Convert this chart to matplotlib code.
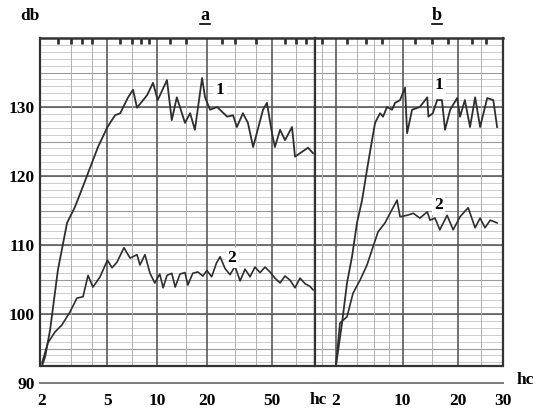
import numpy as np
import matplotlib
matplotlib.use("Agg")
import matplotlib.pyplot as plt
from matplotlib.lines import Line2D

# panel a: log frequency axis
A1_X = [2.0, 2.09, 2.24, 2.50, 2.84, 3.17, 3.55, 3.92, 4.38, 5.0, 5.56, 5.98, 6.67, 7.15, 7.56,
        8.7, 9.46, 10.1, 11.5, 12.3, 13.2, 14.8, 15.9, 17.0, 18.8, 19.6, 21.0, 23.2, 26.7, 29.0,
        30.6, 33.3, 35.7, 38.4, 44.1, 46.6, 50.0, 52.1, 56.0, 60.0, 66.2, 69.0, 76.1, 82.8, 88.8]
A1_DB = [92.5, 93.8, 97.7, 106.4, 113.2, 115.5, 118.5, 121.2, 124.2, 127.1, 128.8, 129.1, 131.4, 132.5, 129.9,
         131.7, 133.5, 131.0, 133.9, 128.1, 131.4, 127.7, 129.1, 126.7, 134.2, 131.4, 129.6, 130.0, 128.6, 128.8,
         127.1, 129.1, 127.7, 124.2, 129.6, 130.6, 126.2, 124.2, 126.7, 125.2, 127.1, 122.8, 123.5, 124.1, 123.3]

A2_X = [2.0, 2.17, 2.40, 2.64, 2.96, 3.26, 3.55, 3.81, 4.08, 4.51, 5.0, 5.33, 5.71, 6.30, 6.86,
        7.56, 7.88, 8.45, 9.07, 9.7, 10.4, 10.9, 11.5, 12.3, 12.9, 13.8, 14.8, 15.4, 16.5, 17.7,
        19.0, 20.1, 21.5, 23.0, 24.2, 25.9, 27.8, 29.8, 32.0, 34.3, 36.8, 39.4, 42.3, 45.4, 48.6,
        52.1, 56.0, 60.0, 64.4, 69.0, 74.0, 79.4, 85.1, 88.8]
A2_DB = [92.9, 95.8, 97.4, 98.4, 100.3, 102.3, 102.5, 105.6, 103.9, 105.4, 107.8, 106.7, 107.5, 109.6, 108.1,
         108.6, 107.1, 108.6, 105.9, 104.5, 105.8, 103.8, 105.6, 105.9, 103.9, 105.8, 106.0, 104.2, 105.9, 106.1,
         105.5, 106.3, 105.4, 107.4, 108.3, 106.6, 105.7, 106.9, 104.8, 106.5, 105.4, 106.8, 106.0, 106.8, 106.1,
         105.2, 104.5, 105.5, 104.9, 103.8, 105.2, 104.4, 104.0, 103.5]

# panel b
B1_X = [2.0, 2.51, 2.97, 3.46, 3.98, 4.54, 5.11, 5.72, 6.10, 6.75, 7.15, 7.70, 8.41, 8.85, 9.60,
        10.37, 10.7, 11.5, 12.8, 14.1, 14.3, 15.1, 15.9, 16.8, 17.4, 18.4, 19.8, 20.4, 21.4, 22.5,
        23.6, 24.7, 26.3, 27.7, 28.6]
B1_DB = [92.6, 98.7, 104.5, 108.3, 113.2, 116.5, 120.9, 125.2, 127.7, 129.1, 128.6, 130.0, 129.6, 130.6, 131.0,
         132.8, 126.2, 129.6, 130.0, 131.4, 128.6, 129.1, 131.0, 131.0, 126.7, 129.6, 131.3, 128.6, 131.0, 127.1,
         131.4, 127.1, 131.3, 131.0, 127.1]

B2_X = [2.0, 2.33, 2.97, 3.56, 4.31, 5.11, 5.72, 6.48, 7.42, 8.12, 9.15, 9.60, 10.7, 11.7, 12.8,
        14.1, 14.6, 15.5, 16.4, 17.8, 19.0, 20.4, 22.1, 23.6, 24.7, 25.8, 27.0, 28.6]
B2_DB = [92.9, 98.7, 99.6, 103.0, 104.9, 107.1, 109.3, 111.9, 113.2, 114.6, 116.5, 114.1, 114.3, 114.6, 113.9,
         114.8, 113.6, 113.9, 112.2, 114.3, 112.2, 114.1, 115.4, 112.5, 113.9, 112.5, 113.6, 113.2]

Y_TICKS = [90, 100, 110, 120, 130]
A_TICKS = [2, 5, 10, 20, 50]
B_TICKS = [2, 10, 20, 30]

plt.rcParams['font.family'] = ['Liberation Serif', 'DejaVu Serif']
plt.rcParams['font.weight'] = 'bold'

W, H = 536, 415
fig = plt.figure(figsize=(W / 100, H / 100), dpi=100)
bot = (H - 383) / H
top = (H - 38) / H
ax_a = fig.add_axes([40 / W, bot, (315 - 40) / W, top - bot])
ax_b = fig.add_axes([315 / W, bot, (503 - 315) / W, top - bot])

GRID_LO = 92.5
ax_a.set_xscale('log')
ax_a.set_xlim(1.945, 91.3)
ax_b.set_xscale('function', functions=(lambda v: np.power(np.clip(v, 0, None), 0.6),
                                       lambda v: np.power(np.clip(v, 0, None), 1 / 0.6)))
ax_b.set_xlim(0.6, 30)

curve_col = '#2e2e2e'
for ax in (ax_a, ax_b):
    ax.set_ylim(90, 140)
    # recorder paper grid
    ax.hlines(np.arange(93, 140, 1), 0, 1, transform=ax.get_yaxis_transform(),
              color='#c4c4c4', lw=0.6, zorder=0)
    ax.hlines(np.arange(95, 140, 5), 0, 1, transform=ax.get_yaxis_transform(),
              color='#9a9a9a', lw=0.8, zorder=0)
    ax.hlines([100, 110, 120, 130], 0, 1, transform=ax.get_yaxis_transform(),
              color='#606060', lw=1.2, zorder=0)
    ax.hlines([GRID_LO], 0, 1, transform=ax.get_yaxis_transform(), color='#333333', lw=1.6, zorder=1)
    for s in ('left', 'right'):
        ax.spines[s].set_bounds(GRID_LO, 140)
        ax.spines[s].set_linewidth(1.6)
        ax.spines[s].set_color('#333333')
    ax.spines['top'].set_linewidth(1.8)
    ax.spines['top'].set_color('#333333')
    ax.spines['bottom'].set_position(('data', 90))
    ax.spines['bottom'].set_color('#7a7a7a')
    ax.spines['bottom'].set_linewidth(1.4)
    ax.tick_params(axis='x', which='major', length=0, pad=7, labelsize=12.5)
    ax.tick_params(axis='x', which='minor', bottom=False, top=True, direction='in',
                   length=4, width=2, color='#333333')
    ax.tick_params(axis='y', length=0)

a_thin = [3, 4, 7, 15, 30, 40, 70]
a_thick = [5, 10, 20, 50]
ax_a.vlines(a_thin, GRID_LO, 140, color='#b0b0b0', lw=0.7, zorder=0)
ax_a.vlines(a_thick, GRID_LO, 140, color='#5a5a5a', lw=1.2, zorder=0)
b_thin = [1, 4, 6, 8, 15, 25]
b_thick = [2, 10, 20]
ax_b.vlines(b_thin, GRID_LO, 140, color='#b0b0b0', lw=0.7, zorder=0)
ax_b.vlines(b_thick, GRID_LO, 140, color='#5a5a5a', lw=1.2, zorder=0)

ax_a.set_xticks(A_TICKS)
ax_a.set_xticklabels([str(t) for t in A_TICKS])
ax_a.set_xticks([2.5, 3, 3.5, 4, 6, 7, 8, 9, 12, 15, 25, 30, 40, 60, 70, 80], minor=True)
ax_a.set_xticklabels([], minor=True)
ax_b.set_xticks(B_TICKS)
ax_b.set_xticklabels([str(t) for t in B_TICKS])
ax_b.set_xticks([1, 3, 5, 7, 12, 15, 18, 23, 26], minor=True)
ax_b.set_xticklabels([], minor=True)

ax_a.set_yticks(Y_TICKS)
ax_a.set_yticklabels([str(t) for t in Y_TICKS], fontsize=12.5)
ax_a.tick_params(axis='y', pad=4)
ax_b.set_yticks([])

ax_a.plot(A1_X, A1_DB, color=curve_col, lw=1.3)
ax_a.plot(A2_X, A2_DB, color=curve_col, lw=1.2)
ax_b.plot(B1_X, B1_DB, color=curve_col, lw=1.3)
ax_b.plot(B2_X, B2_DB, color=curve_col, lw=1.2)

box = dict(facecolor='white', edgecolor='none', pad=1.5)
ax_a.text(24.2, 132.5, '1', fontsize=12.5, ha='center', va='center', bbox=box)
ax_a.text(28.6, 108.1, '2', fontsize=12.5, ha='center', va='center', bbox=box)
ax_b.text(16.3, 133.2, '1', fontsize=12.5, ha='center', va='center', bbox=box)
ax_b.text(16.1, 115.8, '2', fontsize=12.5, ha='center', va='center', bbox=box)

fig.text(30 / W, 1 - 16 / H, 'db', fontsize=12.5, ha='center', va='center')
for lab, px in (('a', 205), ('b', 437)):
    fig.text(px / W, 1 - 15 / H, lab, fontsize=13, ha='center', va='center')
    fig.add_artist(Line2D([(px - 5) / W, (px + 5) / W], [1 - 24 / H, 1 - 24 / H],
                          transform=fig.transFigure, color='black', lw=1.2))
fig.text(318 / W, 1 - 400 / H, 'hc', fontsize=12.5, ha='center', va='center')
fig.text(525 / W, 1 - 380 / H, 'hc', fontsize=12.5, ha='center', va='center')

fig.savefig('out.png', dpi=100)
